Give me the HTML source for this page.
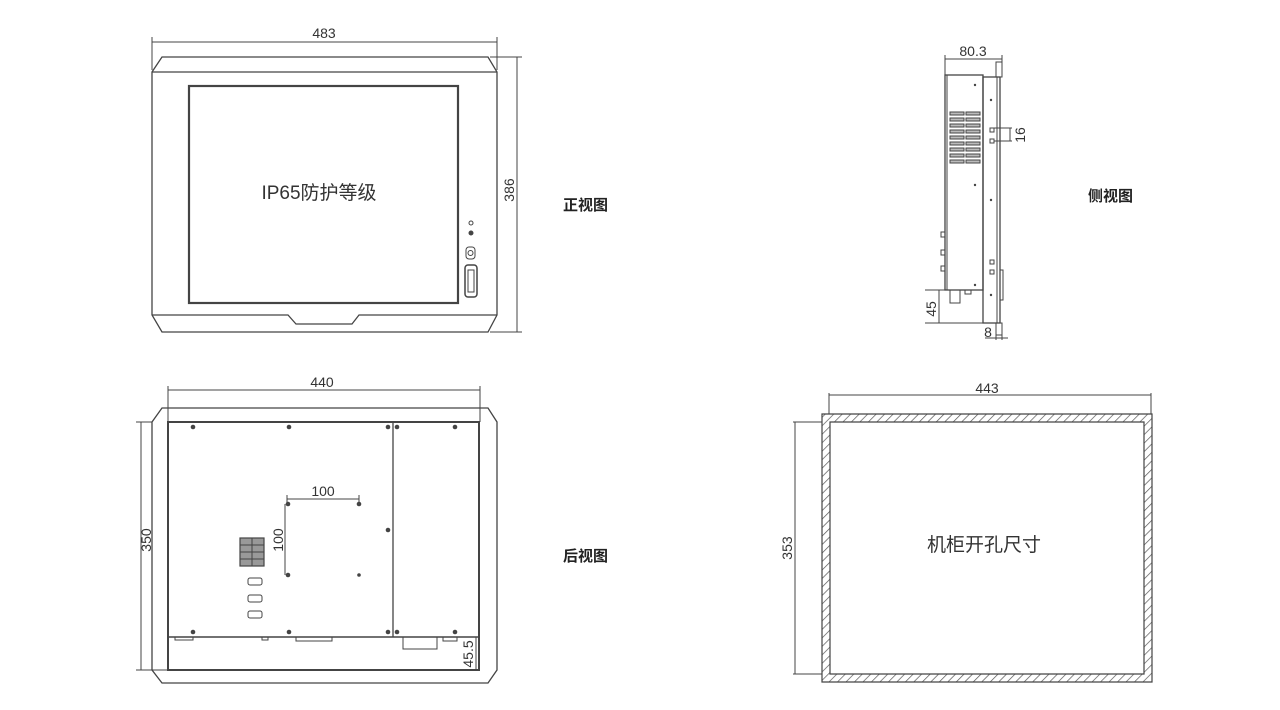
<!DOCTYPE html>
<html><head><meta charset="utf-8"><style>
html,body{margin:0;padding:0;background:#fff;}
svg{display:block;}
text{font-family:"Liberation Sans","Noto Sans CJK SC",sans-serif;fill:#333;}
</style></head><body>
<svg width="1280" height="710" viewBox="0 0 1280 710" xmlns="http://www.w3.org/2000/svg">
<defs>
<pattern id="h" width="6" height="6" patternUnits="userSpaceOnUse" patternTransform="rotate(45)">
<rect width="6" height="6" fill="#fff"/><line x1="0" y1="0" x2="0" y2="6" stroke="#555" stroke-width="1.4"/>
</pattern>
</defs>
<g fill="none" stroke="#444" stroke-width="1">
<!-- FRONT VIEW -->
<line x1="152" y1="42" x2="497" y2="42"/>
<line x1="152" y1="37" x2="152" y2="70"/><line x1="497" y1="37" x2="497" y2="70"/>
<line x1="490" y1="57" x2="522" y2="57"/><line x1="490" y1="332" x2="522" y2="332"/>
<line x1="517" y1="57" x2="517" y2="332"/>
<path d="M162 57 L488 57 L497 72 L497 315 L488 332 L162 332 L152 315 L152 72 Z" stroke-width="1.3"/>
<line x1="152" y1="72" x2="497" y2="72" stroke-width="1.3"/>
<path d="M152 315 L288 315 L296 324 L352 324 L359 315 L497 315" stroke-width="1.3"/>
<rect x="189" y="86" width="269" height="217" stroke-width="2.2"/>
<circle cx="471" cy="223" r="2"/><circle cx="471" cy="233" r="2" fill="#444"/>
<rect x="466" y="247" width="9" height="12" rx="3"/><circle cx="470.5" cy="253" r="2.5"/>
<rect x="465" y="265" width="12" height="32" rx="3" stroke-width="1.5"/><rect x="468" y="270" width="6" height="22"/>
<!-- SIDE VIEW -->
<line x1="945" y1="59" x2="1002" y2="59"/>
<line x1="945" y1="55" x2="945" y2="75"/><line x1="1002" y1="55" x2="1002" y2="62"/>
<rect x="945" y="75" width="38" height="215" stroke-width="1.3"/>
<line x1="947" y1="75" x2="947" y2="290"/>
<rect x="983" y="77" width="17" height="246" stroke-width="1.3"/>
<line x1="997" y1="77" x2="997" y2="323"/>
<rect x="996" y="62" width="6" height="15"/>
<rect x="996" y="323" width="6" height="12"/>
<rect x="1000" y="270" width="3" height="30"/>
<g stroke-width="1" fill="#bbb">
<rect x="950" y="112" width="14" height="3"/><rect x="966" y="112" width="14" height="3"/>
<rect x="950" y="118" width="14" height="3"/><rect x="966" y="118" width="14" height="3"/>
<rect x="950" y="124" width="14" height="3"/><rect x="966" y="124" width="14" height="3"/>
<rect x="950" y="130" width="14" height="3"/><rect x="966" y="130" width="14" height="3"/>
<rect x="950" y="136" width="14" height="3"/><rect x="966" y="136" width="14" height="3"/>
<rect x="950" y="142" width="14" height="3"/><rect x="966" y="142" width="14" height="3"/>
<rect x="950" y="148" width="14" height="3"/><rect x="966" y="148" width="14" height="3"/>
<rect x="950" y="154" width="14" height="3"/><rect x="966" y="154" width="14" height="3"/>
<rect x="950" y="160" width="14" height="3"/><rect x="966" y="160" width="14" height="3"/>
</g>
<rect x="990" y="128" width="4" height="4"/><rect x="990" y="139" width="4" height="4"/>
<line x1="994" y1="128" x2="1012" y2="128"/><line x1="994" y1="141" x2="1012" y2="141"/><line x1="1010" y1="128" x2="1010" y2="141"/>
<rect x="990" y="260" width="4" height="4"/><rect x="990" y="270" width="4" height="4"/>
<rect x="941" y="232" width="4" height="5"/><rect x="941" y="250" width="4" height="5"/><rect x="941" y="266" width="4" height="5"/>
<rect x="950" y="290" width="10" height="13"/><rect x="965" y="290" width="6" height="4"/>
<line x1="925" y1="290" x2="945" y2="290"/><line x1="925" y1="323" x2="983" y2="323"/>
<line x1="939" y1="290" x2="939" y2="323"/>
<line x1="996" y1="335" x2="996" y2="340"/><line x1="1002" y1="335" x2="1002" y2="340"/><line x1="985" y1="338" x2="1008" y2="338"/>
<!-- BACK VIEW -->
<line x1="168" y1="390" x2="480" y2="390"/>
<line x1="168" y1="386" x2="168" y2="422"/><line x1="480" y1="386" x2="480" y2="422"/>
<line x1="136" y1="422" x2="152" y2="422"/><line x1="136" y1="670" x2="168" y2="670"/>
<line x1="141" y1="422" x2="141" y2="670"/>
<path d="M162 408 L488 408 L497 422 L497 670 L488 683 L162 683 L152 670 L152 422 Z" stroke-width="1.3"/>
<rect x="168" y="422" width="311" height="248" stroke-width="2"/>
<line x1="168" y1="637" x2="479" y2="637" stroke-width="1.5"/>
<line x1="393" y1="422" x2="393" y2="637" stroke-width="1.3"/>
<line x1="476" y1="637" x2="476" y2="670"/>
<line x1="287" y1="499" x2="359" y2="499"/><line x1="287" y1="495" x2="287" y2="503"/><line x1="359" y1="495" x2="359" y2="503"/>
<line x1="285" y1="504" x2="285" y2="575"/>
<rect x="240" y="538" width="24" height="28" stroke-width="1.2" fill="#999"/>
<line x1="240" y1="545" x2="264" y2="545"/><line x1="240" y1="552" x2="264" y2="552"/><line x1="240" y1="559" x2="264" y2="559"/><line x1="252" y1="538" x2="252" y2="566"/>
<rect x="248" y="578" width="14" height="7" rx="2"/><rect x="248" y="595" width="14" height="7" rx="2"/><rect x="248" y="611" width="14" height="7" rx="2"/>
<rect x="403" y="637" width="34" height="12"/>
<rect x="175" y="637" width="18" height="3"/><rect x="296" y="637" width="36" height="4"/><rect x="262" y="637" width="6" height="3"/><rect x="443" y="637" width="14" height="4"/>
<!-- CUTOUT -->
<line x1="829" y1="395" x2="1151" y2="395"/><line x1="829" y1="393" x2="829" y2="414"/><line x1="1151" y1="393" x2="1151" y2="414"/>
<line x1="793" y1="422" x2="822" y2="422"/><line x1="793" y1="674" x2="822" y2="674"/>
<line x1="795" y1="422" x2="795" y2="674"/>
</g>
<path d="M822 414 H1152 V682 H822 Z M830 422 V674 H1144 V422 Z" fill="url(#h)" fill-rule="evenodd" stroke="#444" stroke-width="1.2"/>
<g fill="#444">
<circle cx="975" cy="85" r="1.2"/><circle cx="975" cy="185" r="1.2"/><circle cx="975" cy="285" r="1.2"/>
<circle cx="991" cy="100" r="1.2"/><circle cx="991" cy="200" r="1.2"/><circle cx="991" cy="295" r="1.2"/>
<circle cx="193" cy="427" r="2.3"/><circle cx="289" cy="427" r="2.3"/><circle cx="388" cy="427" r="2.3"/><circle cx="397" cy="427" r="2.3"/><circle cx="455" cy="427" r="2.3"/>
<circle cx="193" cy="632" r="2.3"/><circle cx="289" cy="632" r="2.3"/><circle cx="388" cy="632" r="2.3"/><circle cx="397" cy="632" r="2.3"/><circle cx="455" cy="632" r="2.3"/>
<circle cx="388" cy="530" r="2.3"/>
<circle cx="288" cy="504" r="2.3"/><circle cx="359" cy="504" r="2.3"/><circle cx="288" cy="575" r="2.3"/><circle cx="359" cy="575" r="1.8"/>
</g>
<g font-size="14">
<text x="324" y="38" text-anchor="middle">483</text>
<text x="514" y="190" text-anchor="middle" transform="rotate(-90 514 190)">386</text>
<text x="973" y="56" text-anchor="middle">80.3</text>
<text x="1025" y="135" text-anchor="middle" transform="rotate(-90 1025 135)">16</text>
<text x="936" y="309" text-anchor="middle" transform="rotate(-90 936 309)">45</text>
<text x="988" y="337" text-anchor="middle">8</text>
<text x="322" y="387" text-anchor="middle">440</text>
<text x="151" y="540" text-anchor="middle" transform="rotate(-90 151 540)">350</text>
<text x="323" y="496" text-anchor="middle">100</text>
<text x="283" y="540" text-anchor="middle" transform="rotate(-90 283 540)">100</text>
<text x="473" y="654" text-anchor="middle" transform="rotate(-90 473 654)">45.5</text>
<text x="987" y="393" text-anchor="middle">443</text>
<text x="792" y="548" text-anchor="middle" transform="rotate(-90 792 548)">353</text>
</g>
<text x="319" y="199" font-size="19" text-anchor="middle">IP65防护等级</text>
<text x="984" y="551" font-size="19" text-anchor="middle">机柜开孔尺寸</text>
<g font-size="15" font-weight="bold">
<text x="563" y="210" style="fill:#222">正视图</text>
<text x="1088" y="201" style="fill:#222">侧视图</text>
<text x="563" y="561" style="fill:#222">后视图</text>
</g>
</svg>
</body></html>
